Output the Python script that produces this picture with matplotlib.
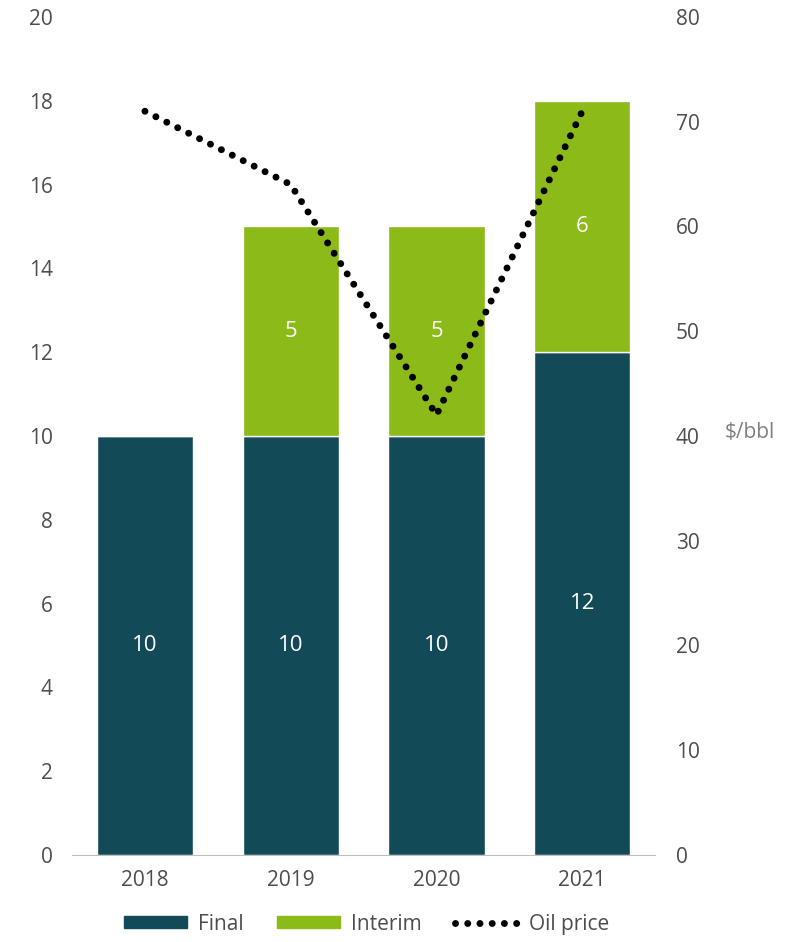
import matplotlib
matplotlib.use("Agg")
import matplotlib.pyplot as plt
from matplotlib.patches import Patch
from matplotlib.lines import Line2D

years = ["2018", "2019", "2020", "2021"]
final = [10, 10, 10, 12]
interim = [0, 5, 5, 6]
oil_price = [71, 64, 42, 71]

c_final = "#134a58"
c_interim = "#8cba19"
c_text = "#4d4d4d"

plt.rcParams["font.family"] = ["Open Sans", "DejaVu Sans"]

fig = plt.figure(figsize=(7.96, 9.42), dpi=100)
ax = fig.add_axes([0.0905, 0.0924, 0.7325, 0.8896])
x = list(range(len(years)))
w = 0.66

ax.bar(x, final, width=w, color=c_final, edgecolor="white", linewidth=1)
ax.bar(x, interim, width=w, bottom=final, color=c_interim, edgecolor="white", linewidth=1)

for i in x:
    ax.text(i, final[i] / 2, str(final[i]), ha="center", va="center",
            color="white", fontsize=16)
    if interim[i] > 0:
        ax.text(i, final[i] + interim[i] / 2, str(interim[i]), ha="center",
                va="center", color="white", fontsize=16)

ax.set_xlim(-0.5, 3.5)
ax.set_ylim(0, 20)
ax.set_yticks(range(0, 21, 2))
ax.set_xticks(x)
ax.set_xticklabels(years)
for s in ["top", "right", "left"]:
    ax.spines[s].set_visible(False)
ax.spines["bottom"].set_color("#bfbfbf")
ax.tick_params(length=0, labelsize=15, colors=c_text, pad=14)
ax.tick_params(axis="x", pad=11)

ax2 = ax.twinx()
ax2.plot(x, oil_price, color="black", linewidth=5,
         linestyle=(0, (0.01, 1.75)), dash_capstyle="round")
ax2.set_ylim(0, 80)
ax2.set_yticks(range(0, 81, 10))
for s in ["top", "right", "left", "bottom"]:
    ax2.spines[s].set_visible(False)
ax2.tick_params(length=0, labelsize=15, colors=c_text, pad=15)
fig.text(0.91, 0.541, "$/bbl", fontsize=15, color="#7f7f7f", va="center")

handles = [
    Patch(color=c_final),
    Patch(color=c_interim),
    Line2D([0], [0], color="black", linewidth=5,
           linestyle=(0, (0.01, 1.75)), dash_capstyle="round"),
]
fig.legend(handles, ["Final", "Interim", "Oil price"], loc="lower center",
           bbox_to_anchor=(0.461, -0.012), ncol=3, frameon=False,
           fontsize=15, handlelength=3.0, handleheight=0.55,
           columnspacing=1.6, handletextpad=0.55, labelcolor=c_text)

fig.savefig("out.png", dpi=100)
